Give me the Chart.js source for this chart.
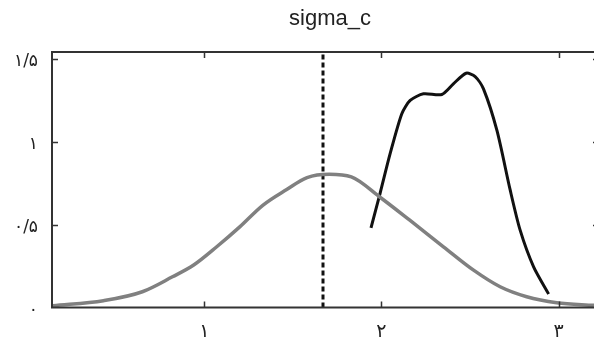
<!DOCTYPE html>
<html>
<head>
<meta charset="utf-8">
<script src="https://cdn.jsdelivr.net/npm/chart.js@4"></script>
<style>
  html, body { margin: 0; padding: 0; background: #fff; }
  #wrap { width: 594px; height: 345px; }
</style>
</head>
<body>
<div id="wrap"><canvas id="sigmaChart"></canvas></div>
<script>
// prior curve (gray)
const priorX = [0.145, 0.43, 0.65, 0.82, 0.94, 1.07, 1.20, 1.33, 1.465, 1.58, 1.705, 1.83, 1.99, 2.16, 2.35, 2.52, 2.67, 2.82, 2.99, 3.2];
const priorY = [0.01, 0.041, 0.095, 0.185, 0.256, 0.366, 0.486, 0.616, 0.711, 0.783, 0.803, 0.787, 0.666, 0.526, 0.366, 0.225, 0.125, 0.065, 0.029, 0.013];

// posterior curve (black)
const postX = [1.941, 1.992, 2.049, 2.115, 2.162, 2.237, 2.341, 2.406, 2.478, 2.529, 2.576, 2.652, 2.727, 2.783, 2.859, 2.944];
const postY = [0.48, 0.687, 0.927, 1.168, 1.248, 1.288, 1.284, 1.348, 1.412, 1.392, 1.318, 1.067, 0.707, 0.466, 0.245, 0.081];

// dashed marker
const markerX = 1.67;

const titleText = "sigma_c";
const xTicks = [1, 2, 3];
const xTickLabels = ["۱", "۲", "۳"];
const yTicks = [0, 0.5, 1, 1.5];
const yTickLabels = ["۰", "۰/۵", "۱", "۱/۵"];

const X_MIN = 0.14, X_MAX = 3.2, Y_MIN = 0, Y_MAX = 1.54;

const toPoints = (xs, ys) => xs.map((x, i) => ({ x: x, y: ys[i] }));

// frame on top/left/bottom, inward tick marks, title
const framePlugin = {
  id: "frame",
  afterDatasetsDraw(chart) {
    const { ctx, chartArea: a, scales } = chart;
    ctx.save();
    ctx.strokeStyle = "#333";
    ctx.lineWidth = 2;
    ctx.beginPath();
    ctx.moveTo(a.right + 2, a.top);
    ctx.lineTo(a.left, a.top);
    ctx.lineTo(a.left, a.bottom);
    ctx.lineTo(a.right + 2, a.bottom);
    ctx.stroke();

    ctx.lineWidth = 1.5;
    ctx.beginPath();
    xTicks.forEach(v => {
      const px = Math.round(scales.x.getPixelForValue(v)) + 0.5;
      ctx.moveTo(px, a.bottom); ctx.lineTo(px, a.bottom - 6);
      ctx.moveTo(px, a.top); ctx.lineTo(px, a.top + 6);
    });
    yTicks.forEach(v => {
      if (v === 0) return;
      const py = Math.round(scales.y.getPixelForValue(v)) + 0.5;
      ctx.moveTo(a.left, py); ctx.lineTo(a.left + 6, py);
      ctx.moveTo(a.right, py); ctx.lineTo(a.right - 1, py);
    });
    ctx.stroke();

    // title, a bit right of centre like the original
    ctx.fillStyle = "#222";
    ctx.font = "22px 'Liberation Sans', Arial, sans-serif";
    ctx.textAlign = "center";
    ctx.textBaseline = "alphabetic";
    ctx.fillText(titleText, (a.left + a.right) / 2 + 7, 25);
    ctx.restore();
  }
};

new Chart(document.getElementById("sigmaChart").getContext("2d"), {
  type: "line",
  data: {
    datasets: [
      {
        label: "prior",
        data: toPoints(priorX, priorY),
        borderColor: "#808080",
        borderWidth: 3.5,
        pointRadius: 0,
        cubicInterpolationMode: "monotone",
        fill: false
      },
      {
        label: "posterior",
        data: toPoints(postX, postY),
        borderColor: "#111",
        borderWidth: 3,
        pointRadius: 0,
        tension: 0.25,
        fill: false
      },
      {
        label: "marker",
        data: [{ x: markerX, y: Y_MIN }, { x: markerX, y: Y_MAX }],
        borderColor: "#111",
        borderWidth: 3,
        borderDash: [5, 3],
        pointRadius: 0,
        fill: false
      }
    ]
  },
  options: {
    responsive: true,
    maintainAspectRatio: false,
    animation: false,
    layout: { padding: { top: 52, right: 0, bottom: 0, left: 0 } },
    plugins: {
      legend: { display: false },
      tooltip: { enabled: false },
      title: { display: false }
    },
    scales: {
      x: {
        type: "linear",
        min: X_MIN,
        max: X_MAX,
        grid: { display: false, drawTicks: false },
        border: { display: false },
        afterBuildTicks: s => { s.ticks = xTicks.map(v => ({ value: v })); },
        afterFit: s => { s.height = 37.5; },
        ticks: {
          padding: 13,
          color: "#222",
          font: { family: "DejaVu Sans", size: 19 },
          callback: v => xTickLabels[xTicks.indexOf(v)]
        }
      },
      y: {
        type: "linear",
        min: Y_MIN,
        max: Y_MAX,
        grid: { display: false, drawTicks: false },
        border: { display: false },
        afterBuildTicks: s => { s.ticks = yTicks.map(v => ({ value: v })); },
        afterFit: s => { s.width = 52; },
        ticks: {
          padding: 14,
          labelOffset: 3,
          color: "#222",
          font: { family: "DejaVu Sans", size: 17 },
          callback: v => yTickLabels[yTicks.indexOf(v)]
        }
      }
    }
  },
  plugins: [framePlugin]
});
</script>
</body>
</html>
